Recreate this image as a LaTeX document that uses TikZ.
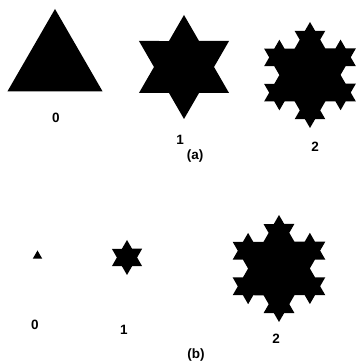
\documentclass[tikz,border=0pt]{standalone}
\usepackage{fontspec}
\setmainfont{Liberation Sans}
\usetikzlibrary{decorations.fractals}
\begin{document}
\begin{tikzpicture}[x=1pt,y=1pt,
  lab/.style={font=\fontsize{13.5}{15}\selectfont\bfseries, inner sep=0pt},
  solid/.style={fill=black},
  koch/.style={fill=black, decoration=Koch snowflake}]
\useasboundingbox (0,0) rectangle (357,363);
% ---- row (a) ----
\fill[solid, shift={(55,299)}] (90:55) -- (-30:55) -- (210:55) -- cycle;
\fill[koch, shift={(184,296)}] decorate{ (90:52) -- (-30:52) -- (210:52) -- (90:52) };
\fill[koch, shift={(310,288)}] decorate{ decorate{ (90:53) -- (-30:53) -- (210:53) -- (90:53) } };
\node[lab] (a0) at (56,245) {0};
\node[lab] (a1) at (180,223) {1};
\node[lab] (a2) at (315,216) {2};
\node[lab] (acap) at (195,207) {(a)};
% ---- row (b) ----
\fill[solid, shift={(37.5,107)}] (90:5.5) -- (-30:5.5) -- (210:5.5) -- cycle;
\fill[koch, shift={(127,105.5)}] decorate{ (90:17.5) -- (-30:17.5) -- (210:17.5) -- (90:17.5) };
\fill[koch, shift={(279,94.5)}] decorate{ decorate{ (90:53.5) -- (-30:53.5) -- (210:53.5) -- (90:53.5) } };
\node[lab] (b0) at (35,38) {0};
\node[lab] (b1) at (124,33) {1};
\node[lab] (b2) at (276,24.5) {2};
\node[lab] (bcap) at (196,8) {(b)};
\end{tikzpicture}
\end{document}
